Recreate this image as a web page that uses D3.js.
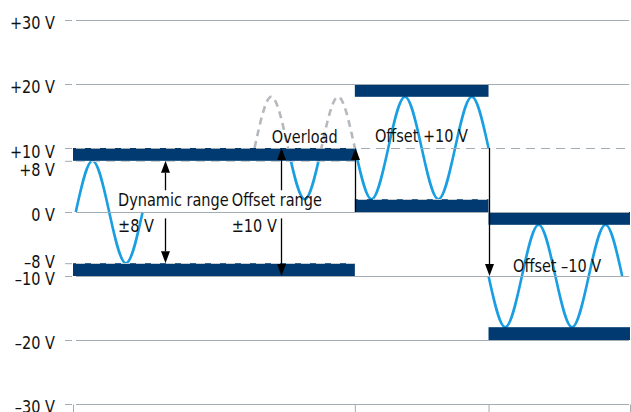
<!DOCTYPE html>
<html><head><meta charset="utf-8">
<script src="https://cdn.jsdelivr.net/npm/d3@7"></script>
<style>
body{margin:0;background:#fff}
svg{display:block}
text{font-family:"DejaVu Sans Condensed","DejaVu Sans",sans-serif;font-stretch:condensed;font-size:18.5px;fill:#111}
</style>
</head><body><svg id="c" width="631" height="412"></svg>
<script>
// ---- data ----
const yTickValues = [30, 20, 10, 8, 0, -8, -10, -20, -30];
const yTickLabels = ["+30 V", "+20 V", "+10 V", "+8 V", "0 V", "–8 V", "–10 V", "–20 V", "–30 V"];
const gridValues = [30, 20, 0, -10, -20, -30];
const dashedGridValues = [10];
const sectionBounds = [0, 50.6, 74.6, 100];
const barStart = [0, 0, 50.6, 50.6, 74.6, 74.6];
const barEnd = [50.6, 50.6, 74.6, 74.6, 100, 100];
const barHigh = [10, -8, 20, 2, 0, -18];
const barLow = [8, -10, 18, 0, -2, -20];
const edgeStart = [0, 0, 50.6];
const edgeEnd = [50.6, 50.6, 74.6];
const edgeValue = [8, -8, 2];
const wave1T = [0.5, 3.5, 6.5, 9.5, 12.5];
const wave1V = [0, 8, 0, -8, 0];
const overloadT = [32.6, 35.6, 38.6, 41.6, 44.6, 47.6, 50.6];
const overloadV = [10, 18, 10, 2, 10, 18, 10];
const wave2T = [50.6, 53.6, 56.6, 59.6, 62.6, 65.6, 68.6, 71.6, 74.6];
const wave2V = [10, 2, 10, 18, 10, 2, 10, 18, 10];
const wave3T = [74.6, 77.6, 80.6, 83.6, 86.6, 89.6, 92.6, 95.6, 98.6];
const wave3V = [-10, -18, -10, -2, -10, -18, -10, -2, -10];
const arrowT = [16.5, 16.5, 37.3, 37.3, 50.6, 74.6];
const arrowFrom = [3.4, -1, 3.4, -1, 0, 10];
const arrowTo = [8, -8, 10, -10, 10, -10];
const labelText = ["Dynamic range", "±8 V", "Offset range", "±10 V", "Overload", "Offset +10 V", "Offset –10 V"];
const labelT = [8.1, 8.1, 28.5, 28.5, 35.7, 54.2, 79.0];
const labelV = [0.94, -3.08, 0.94, -3.08, 10.8, 10.9, -9.3];

// ---- layout / style ----
const W = 631, H = 412;
const sx = 0.87;               // condensed text
const gridColor = "#a3abb3";
const barColor = "#003a70";
const waveColor = "#1a9ee2";
const overColor = "#b5b9bd";
const labelNudge = {10: 9, 8: 14.5, "-8": 4, "-10": 8};

const svg = d3.select("#c");
const x = d3.scaleLinear().domain([0, 100]).range([73, 630]);
const y = d3.scaleLinear().domain([-30, 30]).range([404, 20]);
const gridX0 = x(0) + 3, gridX1 = x(100) - 1;

// clip paths
const defs = svg.append("defs");
defs.append("clipPath").attr("id", "above").append("rect")
  .attr("x", 0).attr("y", 0).attr("width", W).attr("height", y(10));
defs.append("clipPath").attr("id", "below").append("rect")
  .attr("x", 0).attr("y", y(10)).attr("width", W).attr("height", H - y(10));

// waves
const line = d3.line().x(d => x(d[0])).y(d => y(d[1])).curve(d3.curveNatural);
const zip = (a, b) => a.map((t, i) => [t, b[i]]);
const gw = svg.append("g").attr("fill", "none").attr("stroke-width", 2.6);
gw.append("path").attr("d", line(zip(wave1T, wave1V))).attr("stroke", waveColor);
gw.append("path").attr("d", line(zip(overloadT, overloadV))).attr("stroke", overColor)
  .attr("stroke-dasharray", "7,5").attr("clip-path", "url(#above)");
gw.append("path").attr("d", line(zip(overloadT, overloadV))).attr("stroke", waveColor)
  .attr("clip-path", "url(#below)");
gw.append("path").attr("d", line(zip(wave2T, wave2V))).attr("stroke", waveColor);
gw.append("path").attr("d", line(zip(wave3T, wave3V))).attr("stroke", waveColor);

// bars
svg.append("g").selectAll("rect").data(barStart).join("rect")
  .attr("x", (d, i) => x(barStart[i]))
  .attr("width", (d, i) => x(barEnd[i]) - x(barStart[i]))
  .attr("y", (d, i) => y(barHigh[i]))
  .attr("height", (d, i) => y(barLow[i]) - y(barHigh[i]))
  .attr("fill", barColor);

// gridlines
const gg = svg.append("g").attr("stroke", gridColor).attr("stroke-width", 1);
gg.selectAll("line.s").data(gridValues).join("line").attr("class", "s")
  .attr("x1", gridX0).attr("x2", gridX1)
  .attr("y1", d => Math.round(y(d)) + 0.5).attr("y2", d => Math.round(y(d)) + 0.5);
gg.selectAll("line.d").data(dashedGridValues).join("line").attr("class", "d")
  .attr("x1", gridX0).attr("x2", gridX1).attr("stroke-dasharray", "9,6")
  .attr("y1", d => Math.round(y(d)) + 0.5).attr("y2", d => Math.round(y(d)) + 0.5);
gg.selectAll("line.e").data(edgeValue).join("line").attr("class", "e")
  .attr("x1", (d, i) => x(edgeStart[i]) + 3).attr("x2", (d, i) => x(edgeEnd[i]))
  .attr("y1", d => Math.round(y(d)) + 0.5).attr("y2", d => Math.round(y(d)) + 0.5)
  .attr("stroke", "#c9ced3").attr("stroke-dasharray", "9,6");

// left axis
const ya = svg.append("g").attr("transform", `translate(${x(0) - 1},0)`)
  .call(d3.axisLeft(y).tickValues(yTickValues).tickFormat((d, i) => yTickLabels[i]).tickSize(7).tickPadding(10));
ya.attr("font-size", null).attr("font-family", null);
ya.select(".domain").remove();
ya.selectAll(".tick line").attr("stroke", gridColor);
ya.selectAll(".tick text").attr("x", 0).attr("dy", null).attr("fill", null)
  .attr("text-anchor", "end")
  .attr("transform", d => `translate(-17,${labelNudge[d] !== undefined ? labelNudge[d] : 8.3}) scale(${sx},1)`);

// bottom axis
const xa = svg.append("g").attr("transform", `translate(0,${Math.round(y(-30)) + 0.5})`)
  .call(d3.axisBottom(x).tickValues(sectionBounds).tickFormat(() => "").tickSize(8).tickSizeOuter(0));
xa.select(".domain").remove();
xa.selectAll(".tick line").attr("stroke", gridColor);

// arrows
const ga = svg.append("g");
arrowT.forEach((t, i) => {
  const px = Math.round(x(t)) + 0.5;
  const y0 = y(arrowFrom[i]), y1 = y(arrowTo[i]);
  const dir = y1 < y0 ? 1 : -1;   // 1: pointing up
  const base = y1 + dir * 12;
  ga.append("line").attr("x1", px).attr("x2", px).attr("y1", y0).attr("y2", base)
    .attr("stroke", "#000").attr("stroke-width", 1.3);
  ga.append("path").attr("d", `M${px},${y1}L${px - 4.5},${base}L${px + 4.5},${base}Z`).attr("fill", "#000");
});

// labels
svg.append("g").selectAll("text").data(labelText).join("text")
  .attr("transform", (d, i) => `translate(${x(labelT[i])},${y(labelV[i])}) scale(${sx},1)`)
  .text(d => d);
</script>
</body></html>
